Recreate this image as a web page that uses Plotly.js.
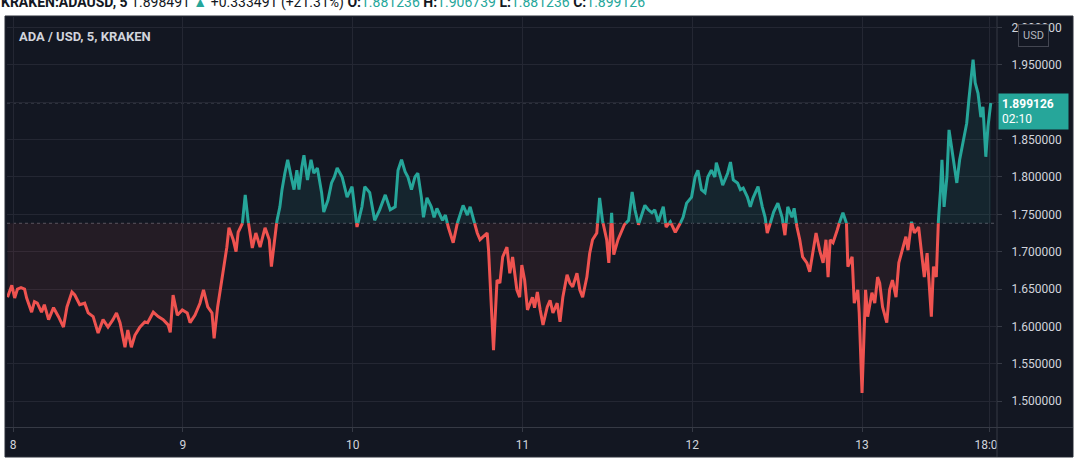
<!DOCTYPE html>
<html><head><meta charset="utf-8">
<script src="https://cdn.plot.ly/plotly-3.0.1.min.js"></script>
<style>html,body{margin:0;padding:0;background:#fff;}#chart{width:1080px;height:468px;}</style>
</head><body><div id="chart"></div>
<script>
// hours since 2021-08-08 00:00, and ADA/USD close values
const hoursA = [-0.8,-0.2,0.2,0.6,1.1,1.6,1.9,2.6,3.0,3.4,4.0,4.4,5.0,5.7,6.4,7.1,7.6,8.3,8.7,9.4,10.1,10.6,11.3,12.0,12.7,13.4,14.1,14.6,15.1,15.8,16.2,16.7,17.2,17.9,18.6,19.0,19.8,20.5,21.2,21.9];
const pricesA = [1.639,1.655,1.638,1.650,1.652,1.650,1.638,1.619,1.633,1.631,1.619,1.629,1.609,1.625,1.613,1.599,1.626,1.646,1.642,1.629,1.631,1.618,1.613,1.591,1.609,1.599,1.609,1.618,1.605,1.572,1.595,1.572,1.588,1.599,1.606,1.605,1.619,1.613,1.609,1.602];
const hoursB = [22.2,22.6,23.2,23.9,24.6,25.0,25.7,26.4,26.9,27.5,28.1,28.4,28.9,29.3,29.8,30.2,30.5,31.1,31.5,31.8,32.4,32.8,33.2,33.8,34.3,34.9,35.6,36.2,36.5,36.9,37.3,37.7,38.0,38.4,38.8,39.3,39.7,40.1,40.4,40.8,41.1,41.6,42.1,42.5,43.0,43.6,43.9,44.5,45.0,45.4];
const pricesB = [1.592,1.642,1.615,1.622,1.618,1.605,1.615,1.631,1.649,1.626,1.618,1.584,1.626,1.649,1.680,1.706,1.732,1.716,1.700,1.726,1.738,1.776,1.742,1.705,1.725,1.706,1.732,1.716,1.680,1.716,1.742,1.760,1.783,1.805,1.823,1.800,1.783,1.809,1.783,1.813,1.829,1.796,1.823,1.805,1.812,1.779,1.753,1.769,1.792,1.800];
const hoursC = [45.8,46.5,47.2,47.9,48.6,49.3,49.7,50.4,51.1,51.8,52.6,53.3,54.0,54.4,54.9,55.4,55.8,56.3,56.8,57.2,57.7,58.0,58.5,59.1,59.5,59.9,60.7,61.1,61.5,62.2,62.6,63.2,63.6,64.2,64.6,65.0,65.6,66.0,66.4,67.0,67.2,67.5,67.9,68.4,68.8];
const pricesC = [1.812,1.800,1.773,1.787,1.733,1.760,1.787,1.779,1.742,1.756,1.776,1.756,1.760,1.809,1.823,1.807,1.800,1.783,1.800,1.805,1.773,1.746,1.772,1.760,1.746,1.758,1.742,1.749,1.733,1.712,1.733,1.749,1.762,1.749,1.760,1.746,1.725,1.716,1.720,1.725,1.702,1.649,1.568,1.662,1.658];
const hoursD = [69.2,69.8,70.2,70.6,71.2,71.6,71.9,72.3,72.7,73.4,73.7,74.1,74.5,74.9,75.5,75.9,76.3,76.9,77.3,77.7,78.3,78.7,79.1,79.7,80.1,80.5,81.1,81.5,81.9,82.5,82.9,83.3,83.9,84.2,84.6,84.9,85.5,85.9,86.4,87.0,87.5,87.9,88.4,88.9,89.3,89.8,90.3,90.7,91.2,91.9];
const pricesD = [1.693,1.706,1.671,1.693,1.649,1.639,1.682,1.662,1.622,1.639,1.625,1.646,1.622,1.602,1.626,1.635,1.618,1.631,1.606,1.639,1.669,1.658,1.653,1.671,1.649,1.639,1.666,1.698,1.716,1.725,1.772,1.742,1.716,1.685,1.752,1.696,1.716,1.726,1.736,1.742,1.780,1.756,1.736,1.752,1.762,1.756,1.752,1.756,1.740,1.760];
const hoursE = [92.3,92.9,93.6,94.3,94.7,95.2,95.9,96.4,96.8,97.3,97.8,98.2,98.7,99.2,99.4,100.0,100.3,101.0,101.4,101.8,102.4,102.8,103.2,103.8,104.2,104.6,105.3,105.9,106.3,106.6,107.1,107.5,108.1,108.7,109.1,109.5,110.1,110.4,110.8,111.2,111.6,112.2,112.6,113.1,113.5,114.0,114.5,114.9,115.2];
const pricesE = [1.733,1.740,1.726,1.738,1.746,1.765,1.773,1.800,1.809,1.783,1.779,1.800,1.809,1.800,1.819,1.800,1.789,1.805,1.820,1.796,1.792,1.783,1.785,1.773,1.760,1.772,1.787,1.760,1.746,1.725,1.740,1.753,1.765,1.746,1.722,1.760,1.746,1.758,1.733,1.716,1.693,1.685,1.673,1.702,1.725,1.702,1.685,1.716,1.666];
const hoursF = [115.5,115.9,116.5,116.9,117.3,117.8,118.0,118.6,118.9,119.4,119.6,120.0,120.3,120.5,120.8,121.4,121.8,122.2,122.5,122.9,123.5,123.9,124.3,124.8,125.2,125.6,126.2,126.5,127.0,127.4,128.0,128.4,128.8,129.2,129.5,129.8,130.1,130.5,130.8,131.1,131.3,131.6,132.0,132.3,132.7,133.0,133.4,133.8,134.3,134.8,135.1,135.4,135.7,136.0,136.4,136.8,137.1,137.5,137.8,138.2];
const pricesF = [1.716,1.712,1.729,1.742,1.752,1.738,1.680,1.693,1.631,1.649,1.618,1.511,1.613,1.649,1.613,1.645,1.631,1.666,1.658,1.626,1.605,1.649,1.662,1.639,1.685,1.698,1.720,1.702,1.740,1.725,1.733,1.698,1.666,1.698,1.658,1.613,1.680,1.666,1.742,1.783,1.823,1.760,1.800,1.863,1.836,1.813,1.792,1.823,1.850,1.872,1.903,1.934,1.957,1.926,1.912,1.880,1.894,1.827,1.867,1.899];

const baseline = 1.738;
const lastPrice = 1.899126;
const priceTicks = [1.5,1.55,1.6,1.65,1.7,1.75,1.8,1.85,1.9,1.95,2.0];
const priceTickText = ['1.500000','1.550000','1.600000','1.650000','1.700000','1.750000','1.800000','1.850000','1.900000','1.950000','2.000000'];
const dayTicks = ['2021-08-08','2021-08-09','2021-08-10','2021-08-11','2021-08-12','2021-08-13','2021-08-13 18:00'];
const dayTickText = ['8','9','10','11','12','13','18:00'];

const hours = [].concat(hoursA,hoursB,hoursC,hoursD,hoursE,hoursF);
const prices = [].concat(pricesA,pricesB,pricesC,pricesD,pricesE,pricesF);
const t0 = Date.UTC(2021,7,8);
function toDate(h){ return new Date(t0 + h*3600000).toISOString().slice(0,19).replace('T',' '); }

// split the line where it crosses the baseline
const hx = [], py = [];
for (let i=0;i<prices.length;i++){
  hx.push(hours[i]); py.push(prices[i]);
  if (i<prices.length-1 && (prices[i]-baseline)*(prices[i+1]-baseline) < 0){
    const f = (baseline-prices[i])/(prices[i+1]-prices[i]);
    hx.push(hours[i]+f*(hours[i+1]-hours[i])); py.push(baseline);
  }
}
const X = hx.map(toDate);
const upLine = py.map(v => v>=baseline ? v : null);
const dnLine = py.map(v => v<=baseline ? v : null);
const upFill = py.map(v => Math.max(v,baseline));
const dnFill = py.map(v => Math.min(v,baseline));
const baseArr = py.map(() => baseline);

const teal = '#26a69a', red = '#ef5350';
const traces = [
  {x:X, y:baseArr, mode:'lines', line:{width:0}, hoverinfo:'skip'},
  {x:X, y:upFill, mode:'lines', line:{width:0}, fill:'tonexty', fillcolor:'rgba(38,166,154,0.10)', hoverinfo:'skip'},
  {x:X, y:baseArr, mode:'lines', line:{width:0}, hoverinfo:'skip'},
  {x:X, y:dnFill, mode:'lines', line:{width:0}, fill:'tonexty', fillcolor:'rgba(239,83,80,0.08)', hoverinfo:'skip'},
  {x:X, y:upLine, mode:'lines', line:{color:teal, width:3}, connectgaps:false},
  {x:X, y:dnLine, mode:'lines', line:{color:red, width:3}, connectgaps:false}
];

// plot area: px 7..996 horizontally, 17..427 vertically
const px = v => (v-7)/989;
const pyy = v => (427-v)/410;
const frameCol = '#131722', sepCol = '#363a45';
const sp = '&nbsp;';

const layout = {
  width:1080, height:468,
  margin:{l:7, r:84, t:17, b:41, pad:0},
  paper_bgcolor:'#ffffff', plot_bgcolor:frameCol,
  showlegend:false,
  font:{family:'Roboto, sans-serif', size:12, color:'#d1d4dc'},
  xaxis:{type:'date', range:[toDate(-0.88), toDate(138.94)], tickvals:dayTicks, ticktext:dayTickText,
    showgrid:true, gridcolor:'#242733', gridwidth:1, zeroline:false, showline:false,
    ticks:'outside', ticklen:4, tickcolor:sepCol, ticklabelstandoff:3, tickfont:{size:12, color:'#d1d4dc'}, fixedrange:true},
  yaxis:{side:'right', range:[1.4653, 2.0141], tickvals:priceTicks, ticktext:priceTickText,
    showgrid:true, gridcolor:'#242733', gridwidth:1, zeroline:false, showline:false,
    ticks:'outside', ticklen:5, tickcolor:sepCol, ticklabelstandoff:7, tickfont:{size:12, color:'#d1d4dc'}, fixedrange:true},
  shapes:[
    {type:'rect', xref:'paper', yref:'paper', x0:px(5), x1:px(1073), y0:pyy(457), y1:pyy(16), fillcolor:frameCol, line:{color:'#2a2e39', width:1}, layer:'below'},
    {type:'line', xref:'paper', yref:'y', x0:0, x1:1, y0:baseline, y1:baseline, line:{color:'rgba(134,137,147,0.55)', width:1, dash:'dot'}, layer:'below'},
    {type:'line', xref:'paper', yref:'y', x0:0, x1:1, y0:lastPrice, y1:lastPrice, line:{color:'rgba(134,137,147,0.6)', width:1, dash:'dot'}, layer:'below'},
    {type:'rect', xref:'paper', yref:'paper', x0:px(997), x1:px(1072.5), y0:pyy(456.5), y1:pyy(428), fillcolor:frameCol, line:{width:0}, layer:'above'},
    {type:'line', xref:'paper', yref:'paper', x0:px(5), x1:px(1073), y0:pyy(427.5), y1:pyy(427.5), line:{color:sepCol, width:1}, layer:'above'},
    {type:'line', xref:'paper', yref:'paper', x0:px(997), x1:px(997), y0:pyy(457), y1:pyy(16), line:{color:sepCol, width:1}, layer:'above'}
  ],
  annotations:[
    {xref:'paper', yref:'paper', x:px(-1), y:pyy(2.5), xanchor:'left', yanchor:'middle', showarrow:false,
     font:{family:'Roboto, sans-serif', size:14, color:'#131722'},
     text:'<b>KRAKEN:ADAUSD, 5</b> 1.898491 <span style="color:#26a69a">▲</span> +0.333491 (+21.31%)'+sp+'<b>O:</b><span style="color:#26a69a">1.881236</span>'+sp+'<b>H:</b><span style="color:#26a69a">1.906739</span>'+sp+'<b>L:</b><span style="color:#26a69a">1.881236</span>'+sp+'<b>C:</b><span style="color:#26a69a">1.899126</span>'},
    {xref:'paper', yref:'paper', x:px(17), y:pyy(36), xanchor:'left', yanchor:'middle', showarrow:false,
     font:{family:'Roboto, sans-serif', size:13, color:'#d1d4dc'}, text:'<b>ADA / USD, 5, KRAKEN</b>'},
    {xref:'paper', yref:'paper', x:px(1033.5), y:pyy(35.5), xanchor:'center', yanchor:'middle', showarrow:false,
     font:{family:'Roboto, sans-serif', size:11, color:'#b2b5be'}, text:'USD', bgcolor:frameCol, bordercolor:'#434651', borderwidth:1, borderpad:4},
    {xref:'paper', yref:'y', x:px(997.5), y:lastPrice, xanchor:'left', yanchor:'top', yshift:10, showarrow:false,
     font:{family:'Roboto, sans-serif', size:12, color:'#ffffff'}, align:'left', width:63, height:29,
     text:'<b>1.899126</b><br>02:10', bgcolor:teal, borderpad:3}
  ]
};
Plotly.newPlot('chart', traces, layout, {displayModeBar:false, staticPlot:true});
</script></body></html>
